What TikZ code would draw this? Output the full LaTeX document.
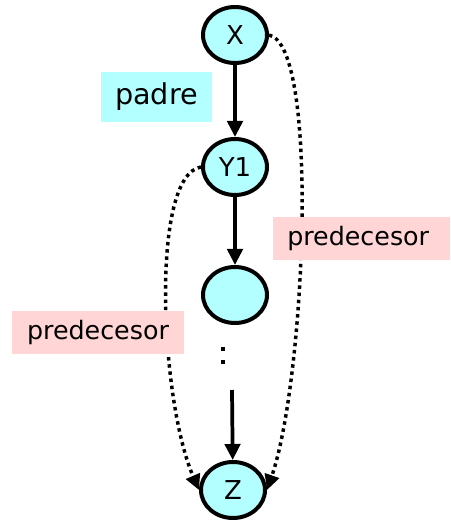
\documentclass[tikz,border=0pt]{standalone}
\usepackage{fontspec}
\setmainfont{DejaVu Sans}
\usetikzlibrary{shapes.geometric,arrows.meta}
\definecolor{nodecyan}{HTML}{B3FFFF}
\definecolor{labelpink}{HTML}{FFD5D5}
\begin{document}
\begin{tikzpicture}[x=0.75pt,y=-0.75pt,
  vertex/.style={ellipse,draw=black,line width=3pt,fill=nodecyan,
    minimum width=48pt,minimum height=42pt,inner sep=0pt,
    font=\fontsize{19.5}{22}\selectfont},
  tag/.style={inner sep=0pt,minimum height=32.25pt,font=\fontsize{19}{22}\selectfont},
  link/.style={line width=2.8pt,-{Triangle[length=12pt,width=11.5pt]}},
  pred/.style={line width=2.6pt,dash pattern=on 2.6pt off 2.8pt,
    -{Triangle[length=11.5pt,width=11pt]}}]
\useasboundingbox (0,0) rectangle (450,523);
\node[vertex] (x) at (235,35) {X};
\node[vertex] (y1) at (235,167) {Y1};
\node[vertex] (m) at (235,295) {};
\node[vertex] (z) at (233,490) {Z};
\coordinate (cont) at (232,390);
% vertical dots between the middle node and the continuation
\fill (220.5,347) rectangle (224.5,351);
\fill (220.5,360) rectangle (224.5,364);
\draw[link] (x) -- (y1);
\draw[link] (y1) -- (m);
\draw[link] (cont) -- (z);
% predecessor links
\draw[pred] (x.east) .. controls (320,45) and (305,380) .. (z.east);
\draw[pred] (y1.west) .. controls (150,175) and (160,400) .. (z.west);
\node[tag,fill=nodecyan,minimum width=83.25pt,minimum height=37.5pt,
  font=\fontsize{21.5}{25}\selectfont] (padre) at (156.5,97) {padre};
\node[tag,fill=labelpink,anchor=west,inner xsep=10.5pt,text width=111.75pt,
  align=left] (p1) at (273,238.5) {predecesor};
\node[tag,fill=labelpink,minimum width=129pt] (p2) at (98,332.5) {predecesor};
\end{tikzpicture}
\end{document}
